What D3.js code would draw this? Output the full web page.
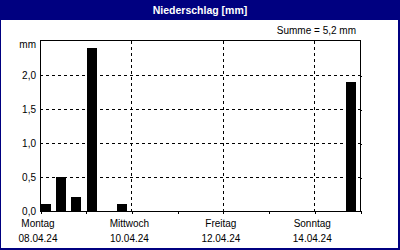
<!doctype html>
<html lang="de">
<head>
<meta charset="UTF-8">
<title>Niederschlag [mm]</title>
<script src="https://d3js.org/d3.v7.min.js"></script>
<style>
body { margin: 0; background: #fff; }
svg { display: block; }
text { font-family: "Liberation Sans", sans-serif; font-size: 10px; fill: #000; }
.grid { stroke: #000; stroke-width: 1; stroke-dasharray: 3,3; shape-rendering: crispEdges; }
.frame { fill: none; stroke: #000; stroke-width: 1; shape-rendering: crispEdges; }
</style>
</head>
<body>
<div id="plot"></div>
<script>

var width = 400;
var height = 250;

// 8-hour precipitation sums
var binStarts = ["2024-04-08T00:00", "2024-04-08T08:00", "2024-04-08T16:00",
                 "2024-04-09T00:00", "2024-04-09T16:00", "2024-04-14T16:00"];
var precip = [0.1, 0.5, 0.2, 2.4, 0.1, 1.9];

var dayNames = ["Montag", "Mittwoch", "Freitag", "Sonntag"];
var dayDates = ["08.04.24", "10.04.24", "12.04.24", "14.04.24"];
var majorDays = ["2024-04-08", "2024-04-10", "2024-04-12", "2024-04-14"];
var allDays = ["2024-04-08", "2024-04-09", "2024-04-10", "2024-04-11",
               "2024-04-12", "2024-04-13", "2024-04-14", "2024-04-15"];
var yTicks = [0, 0.5, 1.0, 1.5, 2.0];

var parseT = d3.timeParse("%Y-%m-%dT%H:%M");
var parseD = d3.timeParse("%Y-%m-%d");

var svg = d3.select("#plot").append("svg")
  .attr("width", width)
  .attr("height", height);

// window frame + title bar
svg.append("rect").attr("x", 0).attr("y", 0).attr("width", width).attr("height", height)
  .style("fill", "#000080");
svg.append("rect").attr("x", 1).attr("y", 20).attr("width", width - 3).attr("height", height - 22)
  .style("fill", "#fff");
svg.append("text")
  .attr("x", 200).attr("y", 14)
  .attr("text-anchor", "middle")
  .style("font-weight", "bold")
  .style("font-size", "10.5px")
  .style("fill", "#fff")
  .text("Niederschlag [mm]");

var x = d3.scaleTime()
  .domain([parseD(allDays[0]), parseD(allDays[allDays.length - 1])])
  .range([40, 360]);

var y = d3.scaleLinear().domain([0, 2.5]).range([211, 41]);

// horizontal grid
svg.selectAll("line.hgrid").data(yTicks.slice(1)).enter().append("line")
  .attr("class", "grid")
  .attr("x1", 40).attr("x2", 360)
  .attr("y1", function (d) { return Math.round(y(d)) + 0.5; })
  .attr("y2", function (d) { return Math.round(y(d)) + 0.5; });

// vertical grid at major days
svg.selectAll("line.vgrid").data(majorDays.slice(1)).enter().append("line")
  .attr("class", "grid")
  .attr("x1", function (d) { return Math.round(x(parseD(d))) + 0.5; })
  .attr("x2", function (d) { return Math.round(x(parseD(d))) + 0.5; })
  .attr("y1", 41).attr("y2", 211);

// bars
var bars = binStarts.map(function (t, i) { return { t: parseT(t), v: precip[i] }; });
svg.selectAll("rect.bar").data(bars).enter().append("rect")
  .attr("x", function (d) { return Math.round(x(d.t)) + 1; })
  .attr("width", 10)
  .attr("y", function (d) { return Math.round(y(d.v)); })
  .attr("height", function (d) { return 211 - Math.round(y(d.v)); })
  .style("fill", "#000");

// frame
svg.append("rect").attr("class", "frame")
  .attr("x", 40.5).attr("y", 40.5).attr("width", 320).attr("height", 170.5);

// bottom axis ticks
var xAxis = d3.axisBottom(x)
  .tickValues(allDays.map(parseD))
  .tickSize(3)
  .tickFormat("");
var gx = svg.append("g")
  .attr("transform", "translate(0.5, 211)")
  .call(xAxis);
gx.select(".domain").remove();
gx.selectAll("line").style("shape-rendering", "crispEdges");

// right axis ticks
var yAxis = d3.axisRight(y).tickValues(yTicks.slice(1)).tickSize(2).tickFormat("");
var gy = svg.append("g").attr("transform", "translate(360, 0.5)").call(yAxis);
gy.select(".domain").remove();
gy.selectAll("line").style("shape-rendering", "crispEdges");

// y labels
svg.selectAll("text.ylab").data(yTicks).enter().append("text")
  .attr("x", 36)
  .attr("y", function (d) { return y(d) + 3.5; })
  .attr("text-anchor", "end")
  .text(function (d) { return d.toFixed(1).replace(".", ","); });
svg.append("text").attr("x", 36).attr("y", 48).attr("text-anchor", "end").text("mm");

// x labels
svg.selectAll("text.dname").data(majorDays).enter().append("text")
  .attr("x", function (d) { return x(parseD(d)) - 2; })
  .attr("y", 227)
  .attr("text-anchor", "middle")
  .text(function (d, i) { return dayNames[i]; });
svg.selectAll("text.ddate").data(majorDays).enter().append("text")
  .attr("x", function (d) { return x(parseD(d)) - 2; })
  .attr("y", 242)
  .attr("text-anchor", "middle")
  .text(function (d, i) { return dayDates[i]; });

svg.append("text")
  .attr("x", 356).attr("y", 34)
  .attr("text-anchor", "end")
  .text("Summe = " + d3.format(".1f")(d3.sum(precip)).replace(".", ",") + " mm");

</script>
</body>
</html>
